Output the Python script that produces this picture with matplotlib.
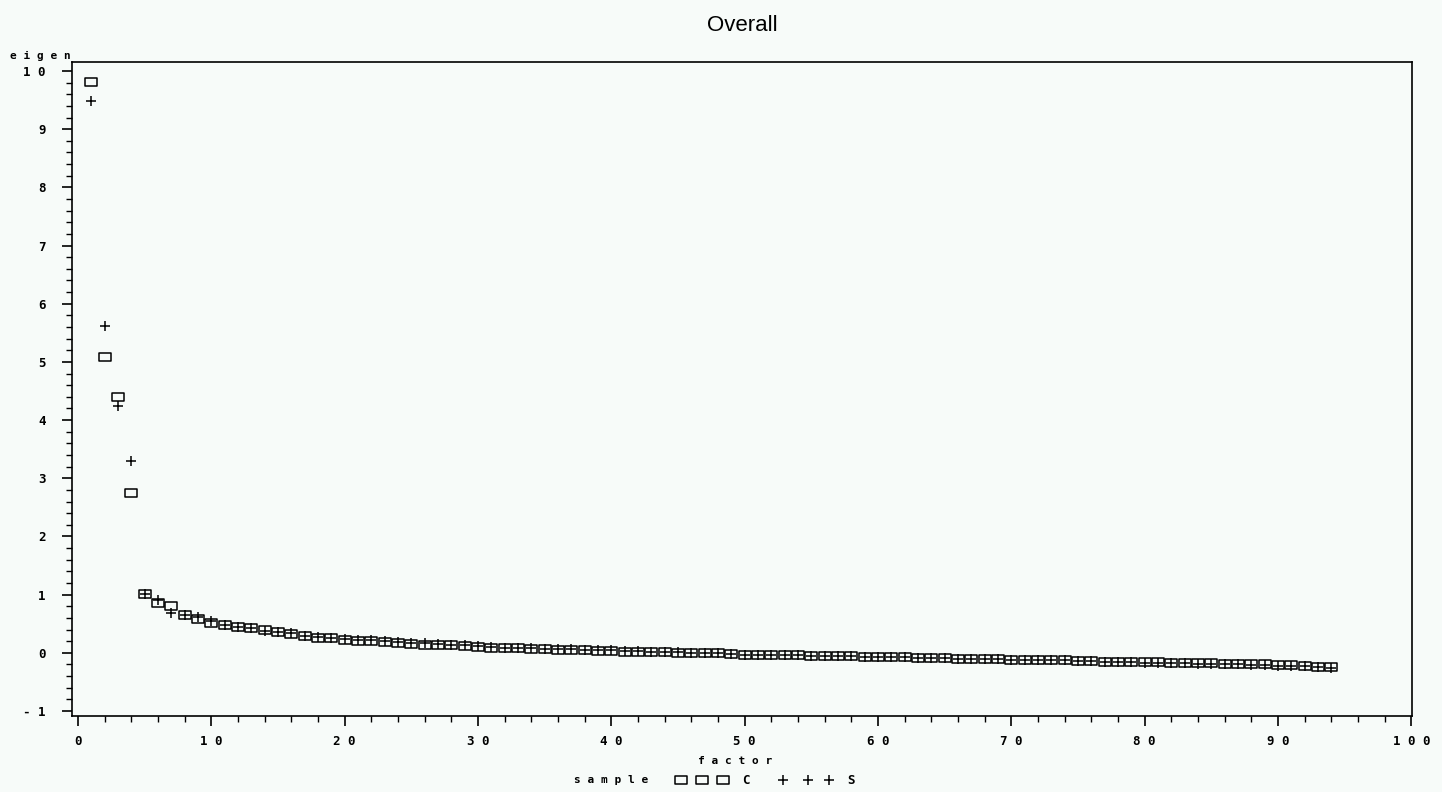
import matplotlib
matplotlib.use("Agg")
import matplotlib.pyplot as plt
from matplotlib.path import Path
from matplotlib.lines import Line2D
from matplotlib.ticker import MultipleLocator, FixedLocator

factor = list(range(1, 95))

eigen_c = [9.81, 5.08, 4.40, 2.75, 1.01, 0.85, 0.81, 0.65, 0.58, 0.51,
           0.47, 0.44, 0.42, 0.40, 0.35, 0.33, 0.28, 0.26, 0.25, 0.22,
           0.21, 0.20, 0.18, 0.17, 0.15, 0.14, 0.14, 0.13, 0.12, 0.10,
           0.09, 0.08, 0.08, 0.07, 0.06, 0.05, 0.05, 0.04, 0.03, 0.03,
           0.02, 0.02, 0.01, 0.01, 0.00, -0.01, -0.01, -0.01, -0.02, -0.03,
           -0.03, -0.03, -0.04, -0.04, -0.05, -0.05, -0.06, -0.06, -0.07, -0.07,
           -0.08, -0.08, -0.09, -0.09, -0.09, -0.10, -0.10, -0.11, -0.11, -0.12,
           -0.12, -0.12, -0.13, -0.13, -0.14, -0.14, -0.15, -0.15, -0.15, -0.16,
           -0.16, -0.17, -0.17, -0.18, -0.18, -0.19, -0.19, -0.20, -0.20, -0.21,
           -0.21, -0.22, -0.24, -0.25]

eigen_s = [9.48, 5.62, 4.24, 3.29, 1.01, 0.90, 0.69, 0.65, 0.61, 0.55,
           0.48, 0.44, 0.42, 0.37, 0.35, 0.34, 0.29, 0.27, 0.26, 0.23,
           0.22, 0.22, 0.20, 0.18, 0.17, 0.16, 0.15, 0.14, 0.13, 0.11,
           0.10, 0.09, 0.09, 0.08, 0.07, 0.06, 0.06, 0.05, 0.04, 0.04,
           0.03, 0.03, 0.02, 0.02, 0.01, 0.00, 0.00, 0.00, -0.02, -0.03,
           -0.03, -0.03, -0.04, -0.04, -0.05, -0.05, -0.06, -0.06, -0.07, -0.07,
           -0.08, -0.08, -0.09, -0.09, -0.09, -0.10, -0.10, -0.11, -0.11, -0.12,
           -0.12, -0.12, -0.13, -0.13, -0.14, -0.14, -0.15, -0.15, -0.15, -0.17,
           -0.17, -0.18, -0.18, -0.19, -0.19, -0.20, -0.20, -0.21, -0.21, -0.22,
           -0.22, -0.23, -0.25, -0.26]

x_ticks = [0, 10, 20, 30, 40, 50, 60, 70, 80, 90, 100]
y_ticks = [-1, 0, 1, 2, 3, 4, 5, 6, 7, 8, 9, 10]

bg = "#f7fbf9"
mono = {"family": "DejaVu Sans Mono", "weight": "bold", "size": 9}
small = {"family": "DejaVu Sans Mono", "weight": "bold", "size": 8}

# wide hollow box marker like the SAS symbol
box = Path([(-1, -0.7), (1, -0.7), (1, 0.7), (-1, 0.7), (-1, -0.7)],
           [Path.MOVETO, Path.LINETO, Path.LINETO, Path.LINETO, Path.CLOSEPOLY])
box_ms = 8
plus_ms = 7.5

fig = plt.figure(figsize=(14.42, 7.92), dpi=100, facecolor=bg)
ax = fig.add_axes([0.0499, 0.096, 0.9293, 0.8257], facecolor=bg)

ax.plot(factor, eigen_c, linestyle="none", marker=box, markersize=box_ms,
        markerfacecolor="none", markeredgecolor="black", markeredgewidth=1.1)
ax.plot(factor, eigen_s, linestyle="none", marker="+", markersize=plus_ms,
        color="black", markeredgewidth=1.1)

ax.set_xlim(-0.45, 100.05)
ax.set_ylim(-1.086, 10.155)

ax.xaxis.set_major_locator(FixedLocator(x_ticks))
ax.yaxis.set_major_locator(FixedLocator(y_ticks))
ax.xaxis.set_minor_locator(MultipleLocator(2))
ax.yaxis.set_minor_locator(MultipleLocator(0.2))
ax.set_xticklabels([" ".join(str(t)) for t in x_ticks], fontdict=mono)
ax.set_yticklabels([" ".join(str(t)) for t in y_ticks], fontdict=mono)

ax.tick_params(which="major", length=7, width=1.2, direction="out")
ax.tick_params(which="minor", length=4, width=1.0, direction="out")
ax.tick_params(axis="y", which="major", pad=12)
ax.tick_params(axis="x", which="major", pad=7)
for s in ax.spines.values():
    s.set_linewidth(1.2)

ax.set_title("Overall", fontsize=16, family="Liberation Sans", pad=22)

fig.text(10 / 1442, 1 - 56 / 792, "e i g e n", fontdict=small, va="center", ha="left")
fig.text(735 / 1442, 1 - 761 / 792, "f a c t o r", fontdict=small, va="center", ha="center")

# legend drawn in the SAS style: label, three symbols, value
ly = 1 - 780 / 792
fig.text(648 / 1442, ly, "s a m p l e", fontdict=small, va="center", ha="right")
for px in [681, 702, 723]:
    fig.add_artist(Line2D([px / 1442], [ly], transform=fig.transFigure, marker=box,
                          markersize=box_ms, markerfacecolor="none",
                          markeredgecolor="black", markeredgewidth=1.1, linestyle="none"))
fig.text(742 / 1442, ly, "C", fontdict=mono, va="center", ha="left")
for px in [783, 808, 829]:
    fig.add_artist(Line2D([px / 1442], [ly], transform=fig.transFigure, marker="+",
                          markersize=plus_ms, color="black", markeredgewidth=1.1,
                          linestyle="none"))
fig.text(847 / 1442, ly, "S", fontdict=mono, va="center", ha="left")

fig.savefig("out.png", dpi=100, facecolor=bg)
